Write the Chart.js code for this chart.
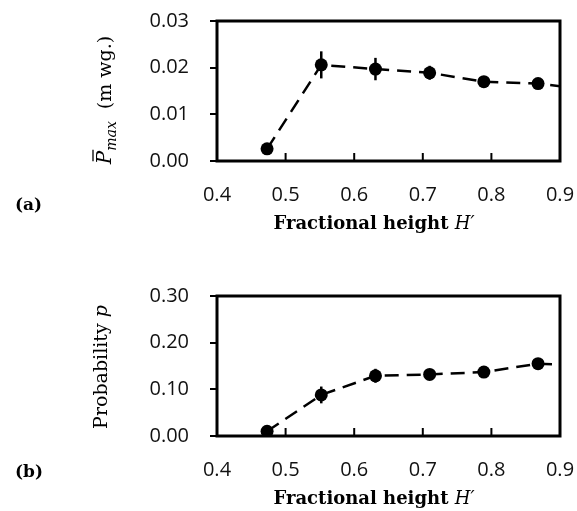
<!DOCTYPE html>
<html>
<head>
<meta charset="utf-8">
<script src="https://cdn.jsdelivr.net/npm/chart.js@4.4.0/dist/chart.umd.min.js"></script>
<style>
  body { margin: 0; background: #fff; overflow: hidden; }
  canvas { position: absolute; left: 0; }
</style>
</head>
<body>
<canvas id="pmax" width="577" height="275" style="top:0"></canvas>
<canvas id="prob" width="577" height="236" style="top:275px"></canvas>
<script>
const heights = [0.473, 0.552, 0.631, 0.710, 0.789, 0.868, 0.947];
const pMax = [0.0026, 0.0206, 0.0197, 0.0189, 0.0170, 0.0166, 0.0152];
const pMaxErr = [0.0005, 0.0029, 0.0024, 0.0015, 0.0008, 0.0008, 0];
const probability = [0.010, 0.088, 0.129, 0.132, 0.137, 0.155, 0.150];
const probabilityErr = [0.004, 0.018, 0.015, 0.006, 0.006, 0.006, 0];
const xTicks = [0.4, 0.5, 0.6, 0.7, 0.8, 0.9];
const pMaxTicks = [0, 0.01, 0.02, 0.03];
const probTicks = [0, 0.1, 0.2, 0.3];

const SANS = '"Open Sans", sans-serif';
const SERIF = '"DejaVu Serif", serif';

// draw a row of text pieces with their own fonts, centred on (cx, cy) along the baseline
function drawRuns(ctx, runs, cx, cy, angle) {
    ctx.save();
    ctx.translate(cx, cy);
    ctx.rotate(angle);
    let total = 0;
    runs.forEach((r) => {
        ctx.font = r.font;
        r.w = ctx.measureText(r.text).width;
        total += r.w + (r.gap || 0);
    });
    let x = -total / 2;
    ctx.fillStyle = "#000";
    ctx.strokeStyle = "#000";
    ctx.textBaseline = "alphabetic";
    ctx.textAlign = "left";
    runs.forEach((r) => {
        ctx.font = r.font;
        ctx.fillText(r.text, x, r.dy || 0);
        if (r.bar) {
            ctx.lineWidth = 1.3;
            ctx.beginPath();
            ctx.moveTo(x + 3, -18);
            ctx.lineTo(x + r.w + 1, -18);
            ctx.stroke();
        }
        x += r.w + (r.gap || 0);
    });
    ctx.restore();
}

function decor(values, errors, yTitle, yTitleAt, panel, panelY) {
    return {
        id: "decor",
        afterDatasetsDraw(chart) {
            const ctx = chart.ctx;
            const xs = chart.scales.x;
            const ys = chart.scales.y;
            const a = chart.chartArea;
            ctx.save();
            // error bars
            ctx.strokeStyle = "#000";
            ctx.lineWidth = 2.5;
            heights.forEach((h, i) => {
                if (h > xs.max) return;
                const px = xs.getPixelForValue(h);
                ctx.beginPath();
                ctx.moveTo(px, ys.getPixelForValue(values[i] - errors[i]));
                ctx.lineTo(px, ys.getPixelForValue(values[i] + errors[i]));
                ctx.stroke();
            });
            // inward ticks on the x axis
            ctx.lineWidth = 2;
            xs.ticks.forEach((t) => {
                const px = xs.getPixelForValue(t.value);
                ctx.beginPath();
                ctx.moveTo(px, a.bottom);
                ctx.lineTo(px, a.bottom - 8);
                ctx.stroke();
            });
            // frame
            ctx.lineWidth = 3;
            ctx.strokeRect(a.left, a.top, a.right - a.left, a.bottom - a.top);
            ctx.restore();

            drawRuns(ctx, [
                { text: "Fractional height ", font: "bold 18px " + SERIF },
                { text: "H\u2032", font: "italic 18px " + SERIF },
            ], 374, 229, 0);
            drawRuns(ctx, yTitle, yTitleAt[0], yTitleAt[1], -Math.PI / 2);
            ctx.save();
            ctx.font = "bold 17px " + SERIF;
            ctx.fillStyle = "#000";
            ctx.fillText(panel, 15, panelY);
            ctx.restore();
        },
    };
}

function createPlot(canvas, values, errors, yMax, yTicks, yTitle, yTitleAt, panel, panelY) {
    return new Chart(canvas, {
        type: "scatter",
        data: {
            datasets: [
                {
                    data: heights.map((h, i) => ({ x: h, y: values[i] })),
                    showLine: true,
                    borderColor: "#000",
                    borderWidth: 2.5,
                    borderDash: [14, 8],
                    pointRadius: 6.5,
                    pointBackgroundColor: "#000",
                    pointBorderWidth: 0,
                },
            ],
        },
        options: {
            responsive: false,
            animation: false,
            layout: { padding: { top: 21, right: 17, left: 0, bottom: 0 } },
            plugins: { legend: { display: false }, tooltip: { enabled: false } },
            scales: {
                x: {
                    type: "linear",
                    min: 0.4,
                    max: 0.9,
                    afterBuildTicks: (s) => { s.ticks = xTicks.map((v) => ({ value: v })); },
                    afterFit: (s) => {
                        s.height = canvas.height - 161;
                        s.paddingLeft = 0;
                        s.paddingRight = 0;
                    },
                    grid: { drawOnChartArea: false, drawTicks: false },
                    border: { display: false },
                    ticks: {
                        padding: 22,
                        color: "#111",
                        font: { family: SANS, size: 20 },
                        callback: (v) => v.toFixed(1),
                    },
                },
                y: {
                    min: 0,
                    max: yMax,
                    afterBuildTicks: (s) => { s.ticks = yTicks.map((v) => ({ value: v })); },
                    afterFit: (s) => {
                        s.width = 217;
                        s.paddingTop = 0;
                        s.paddingBottom = 0;
                    },
                    grid: { drawOnChartArea: false, tickLength: 7, color: "#000", lineWidth: 2 },
                    border: { display: false },
                    ticks: {
                        padding: 21,
                        color: "#111",
                        font: { family: SANS, size: 20 },
                        callback: (v) => v.toFixed(2),
                    },
                },
            },
        },
        plugins: [decor(values, errors, yTitle, yTitleAt, panel, panelY)],
    });
}

createPlot(
    document.querySelector("#pmax"),
    pMax, pMaxErr, 0.03, pMaxTicks,
    [
        { text: "P", font: "italic 20px " + SERIF, bar: true },
        { text: "max", font: "italic 14px " + SERIF, dy: 5, gap: 12 },
        { text: "(m wg.)", font: "19px " + SERIF },
    ],
    [111, 100], "(a)", 210
);

createPlot(
    document.querySelector("#prob"),
    probability, probabilityErr, 0.3, probTicks,
    [
        { text: "Probability ", font: "19px " + SERIF },
        { text: "p", font: "italic 19px " + SERIF },
    ],
    [107, 92], "(b)", 202
);
</script>
</body>
</html>
